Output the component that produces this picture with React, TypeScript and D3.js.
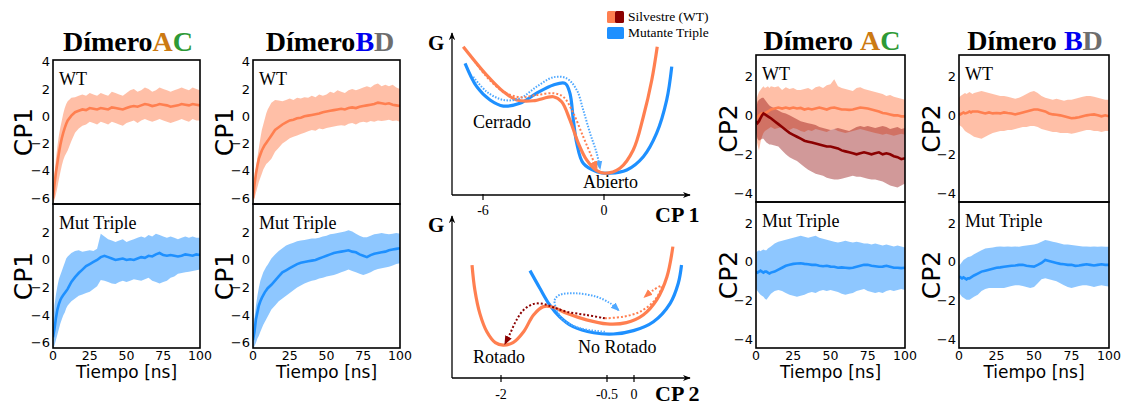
import React from "react";
import * as d3 from "d3";

// ---------- time axis (ns) ----------
const T = [0,1,2,3,4,5,6,7,8,9,10,12.5,15,17.5,20,22.5,25,27.5,30,32.5,35,37.5,40,42.5,45,47.5,50,52.5,55,57.5,60,62.5,65,67.5,70,72.5,75,77.5,80,82.5,85,87.5,90,92.5,95,97.5,100];
const xTicks = [0, 25, 50, 75, 100];

// ---------- CP1, Dímero AC ----------
const acCp1WtMean = [-6.0,-5.0,-4.1,-3.4,-2.7,-2.1,-1.6,-1.2,-0.85,-0.55,-0.3,0.05,0.3,0.4,0.5,0.45,0.6,0.55,0.5,0.6,0.55,0.5,0.65,0.6,0.55,0.5,0.6,0.7,0.75,0.7,0.8,0.9,0.85,0.75,0.8,0.9,0.85,0.8,0.7,0.75,0.8,0.9,0.85,0.8,0.9,0.85,0.8];
const acCp1WtHi = [-5.6,-4.3,-3.1,-2.2,-1.4,-0.8,-0.3,0.2,0.6,0.9,1.1,1.35,1.4,1.5,1.6,1.5,1.7,1.6,1.5,1.7,1.6,1.5,1.8,1.7,1.6,1.5,1.7,1.9,2.0,1.8,1.9,2.1,2.0,1.8,1.9,2.1,2.0,1.9,1.8,1.9,2.0,2.1,2.0,1.9,2.1,2.0,1.9];
const acCp1WtLo = [-6.4,-6.1,-5.7,-5.2,-4.6,-4.1,-3.6,-3.2,-2.9,-2.7,-2.5,-1.8,-1.2,-0.9,-0.7,-0.6,-0.4,-0.5,-0.6,-0.4,-0.5,-0.6,-0.4,-0.5,-0.6,-0.7,-0.5,-0.4,-0.3,-0.5,-0.3,-0.2,-0.3,-0.4,-0.3,-0.2,-0.3,-0.4,-0.5,-0.4,-0.3,-0.2,-0.3,-0.4,-0.2,-0.3,-0.3];
const acCp1MutMean = [-5.6,-5.0,-4.2,-3.6,-3.2,-2.9,-2.7,-2.55,-2.4,-2.25,-2.1,-1.6,-1.25,-0.95,-0.7,-0.45,-0.3,-0.15,0.0,0.2,0.3,0.2,0.1,0.0,0.05,0.1,0.0,0.05,0.0,0.1,0.2,0.15,0.3,0.25,0.4,0.5,0.35,0.3,0.35,0.3,0.25,0.3,0.4,0.35,0.3,0.4,0.35];
const acCp1MutHi = [-4.8,-3.3,-2.5,-1.9,-1.4,-1.1,-0.8,-0.5,-0.2,0.1,0.25,0.5,0.65,0.7,0.6,0.65,0.7,0.65,0.8,1.9,1.7,1.5,1.4,1.3,1.4,1.5,1.3,1.4,1.5,1.6,1.7,1.6,1.8,1.7,1.9,1.8,1.7,1.6,1.7,1.6,1.5,1.6,1.7,1.6,1.7,1.6,1.6];
const acCp1MutLo = [-6.4,-6.2,-5.8,-5.4,-5.0,-4.6,-4.3,-4.0,-3.8,-3.5,-3.3,-3.0,-2.8,-2.6,-2.5,-2.4,-2.3,-2.1,-1.9,-1.45,-1.5,-1.6,-1.7,-1.75,-1.6,-1.5,-1.6,-1.5,-1.4,-1.45,-1.5,-1.4,-1.3,-1.5,-1.6,-1.7,-1.6,-1.5,-1.3,-1.2,-1.0,-0.95,-0.9,-0.85,-0.8,-0.75,-0.7];

// ---------- CP1, Dímero BD ----------
const bdCp1WtMean = [-6.0,-5.0,-4.2,-3.6,-3.1,-2.8,-2.5,-2.3,-2.1,-1.95,-1.8,-1.4,-1.0,-0.8,-0.6,-0.45,-0.3,-0.25,-0.15,-0.1,0.0,0.05,0.1,0.15,0.2,0.3,0.35,0.4,0.45,0.5,0.55,0.5,0.6,0.65,0.6,0.7,0.75,0.8,0.85,0.9,1.0,0.95,0.9,0.95,0.85,0.8,0.75];
const bdCp1WtHi = [-5.6,-4.6,-3.8,-3.0,-2.3,-1.6,-1.0,-0.6,-0.2,0.2,0.5,1.0,1.2,1.15,1.1,1.2,1.3,1.2,1.35,1.3,1.4,1.35,1.5,1.4,1.6,1.5,1.6,1.8,1.7,1.9,1.8,1.7,1.9,2.0,1.9,2.0,2.1,2.2,2.1,2.3,2.4,2.2,2.3,2.2,2.3,2.1,2.0];
const bdCp1WtLo = [-6.4,-6.0,-5.6,-5.2,-4.8,-4.5,-4.2,-3.9,-3.7,-3.5,-3.4,-3.1,-2.6,-2.3,-2.0,-1.8,-1.6,-1.5,-1.4,-1.3,-1.2,-1.1,-1.0,-1.05,-0.9,-0.95,-0.85,-0.8,-0.75,-0.7,-0.65,-0.7,-0.55,-0.5,-0.6,-0.45,-0.4,-0.45,-0.35,-0.4,-0.3,-0.35,-0.3,-0.25,-0.35,-0.3,-0.4];
const bdCp1MutMean = [-5.8,-5.2,-4.3,-3.8,-3.3,-3.0,-2.75,-2.55,-2.35,-2.2,-2.05,-1.8,-1.5,-1.2,-0.9,-0.75,-0.6,-0.45,-0.3,-0.2,-0.15,-0.1,-0.05,0.0,0.1,0.2,0.3,0.4,0.5,0.55,0.6,0.65,0.7,0.6,0.55,0.4,0.3,0.2,0.35,0.45,0.5,0.55,0.6,0.7,0.75,0.8,0.85];
const bdCp1MutHi = [-5.2,-4.2,-3.3,-2.6,-2.0,-1.5,-1.2,-0.9,-0.7,-0.5,-0.35,0.1,0.4,0.65,0.85,1.05,1.15,1.25,1.35,1.4,1.45,1.5,1.55,1.55,1.6,1.7,1.75,1.85,1.9,1.95,2.0,2.05,2.15,2.05,1.9,1.75,1.65,1.65,1.75,1.85,1.9,1.95,1.9,1.85,1.9,1.95,1.9];
const bdCp1MutLo = [-6.4,-6.25,-6.0,-5.7,-5.5,-5.2,-4.95,-4.7,-4.5,-4.3,-4.1,-3.6,-3.3,-3.0,-2.8,-2.6,-2.4,-2.2,-2.0,-1.85,-1.7,-1.6,-1.5,-1.45,-1.35,-1.3,-1.2,-1.15,-1.1,-1.0,-0.9,-0.8,-0.7,-0.8,-0.9,-1.0,-1.1,-1.0,-0.9,-0.75,-0.65,-0.6,-0.55,-0.5,-0.4,-0.3,-0.25];

// ---------- CP2, Dímero AC ----------
const acCp2WtMean = [-0.2,-0.1,0.0,0.05,0.1,0.1,0.12,0.15,0.2,0.25,0.3,0.35,0.4,0.35,0.4,0.35,0.4,0.35,0.38,0.3,0.35,0.3,0.35,0.4,0.35,0.3,0.38,0.4,0.35,0.3,0.3,0.28,0.3,0.35,0.4,0.38,0.35,0.3,0.25,0.2,0.12,0.1,0.05,0.0,0.0,-0.05,-0.05];
const acCp2WtHi = [0.7,1.0,1.2,1.3,1.4,1.5,1.4,1.45,1.5,1.4,1.5,1.45,1.5,1.3,1.45,1.35,1.4,1.3,1.3,1.35,1.4,1.3,1.45,1.5,1.4,1.55,1.6,1.85,1.5,1.4,1.35,1.3,1.25,1.4,1.45,1.35,1.3,1.25,1.2,1.15,1.1,1.0,1.05,0.95,0.9,0.85,0.8];
const acCp2WtLo = [-1.2,-1.5,-1.8,-1.4,-1.1,-0.9,-0.8,-0.75,-0.7,-0.65,-0.6,-0.7,-0.65,-0.6,-0.7,-0.75,-0.65,-0.7,-0.8,-0.85,-0.75,-0.8,-0.7,-0.75,-0.8,-0.85,-0.75,-0.7,-0.8,-0.85,-0.9,-0.85,-0.8,-0.75,-0.7,-0.75,-0.8,-0.85,-0.9,-0.95,-1.0,-0.95,-1.0,-1.05,-1.0,-0.95,-1.0];
const acCp2WtChainMean = [-0.3,-0.4,-0.3,-0.15,0.0,0.1,0.05,0.0,-0.05,-0.1,-0.15,-0.3,-0.45,-0.6,-0.75,-0.9,-1.0,-1.1,-1.2,-1.3,-1.35,-1.4,-1.45,-1.5,-1.55,-1.6,-1.6,-1.65,-1.7,-1.8,-1.85,-1.9,-1.95,-2.0,-1.95,-1.9,-1.95,-2.0,-1.95,-1.9,-2.0,-1.95,-2.0,-2.1,-2.15,-2.25,-2.2];
const acCp2WtChainHi = [0.3,0.7,0.8,0.85,0.9,0.9,0.8,0.7,0.6,0.5,0.45,0.35,0.25,0.15,0.1,0.0,-0.1,-0.2,-0.3,-0.35,-0.4,-0.45,-0.5,-0.6,-0.65,-0.7,-0.75,-0.7,-0.65,-0.7,-0.75,-0.8,-0.7,-0.6,-0.55,-0.6,-0.55,-0.6,-0.65,-0.6,-0.55,-0.6,-0.7,-0.65,-0.6,-0.7,-0.65];
const acCp2WtChainLo = [-0.9,-1.2,-1.3,-1.25,-1.2,-1.2,-1.3,-1.4,-1.45,-1.5,-1.5,-1.55,-1.6,-1.8,-2.0,-2.15,-2.25,-2.35,-2.5,-2.65,-2.8,-2.9,-3.0,-3.05,-3.1,-3.2,-3.25,-3.3,-3.3,-3.25,-3.2,-3.15,-3.1,-3.15,-3.15,-3.2,-3.25,-3.3,-3.3,-3.35,-3.4,-3.5,-3.6,-3.65,-3.7,-3.6,-3.5];
const acCp2MutMean = [-0.5,-0.55,-0.5,-0.45,-0.5,-0.55,-0.5,-0.5,-0.55,-0.6,-0.55,-0.5,-0.4,-0.3,-0.2,-0.15,-0.1,-0.08,-0.07,-0.1,-0.12,-0.15,-0.15,-0.2,-0.22,-0.2,-0.24,-0.25,-0.3,-0.28,-0.3,-0.32,-0.3,-0.25,-0.2,-0.15,-0.15,-0.2,-0.22,-0.25,-0.24,-0.2,-0.25,-0.3,-0.3,-0.32,-0.3];
const acCp2MutHi = [0.5,0.55,0.6,0.55,0.6,0.65,0.6,0.6,0.7,0.75,0.8,0.95,1.05,1.1,1.15,1.2,1.25,1.3,1.35,1.3,1.25,1.3,1.35,1.25,1.2,1.15,1.1,1.05,1.0,1.05,1.1,1.05,1.0,1.05,1.0,0.95,0.95,0.9,0.95,0.9,0.85,0.9,0.85,0.8,0.85,0.8,0.75];
const acCp2MutLo = [-1.4,-1.5,-1.6,-1.7,-1.75,-1.8,-1.9,-1.95,-1.85,-1.75,-1.65,-1.5,-1.45,-1.5,-1.6,-1.7,-1.75,-1.8,-1.75,-1.7,-1.6,-1.55,-1.6,-1.5,-1.45,-1.5,-1.45,-1.5,-1.55,-1.65,-1.7,-1.65,-1.6,-1.5,-1.45,-1.4,-1.5,-1.55,-1.6,-1.55,-1.6,-1.5,-1.45,-1.5,-1.45,-1.4,-1.45];

// ---------- CP2, Dímero BD ----------
const bdCp2WtMean = [0.1,0.05,0.1,0.15,0.1,0.12,0.15,0.2,0.15,0.2,0.2,0.2,0.15,0.1,0.15,0.1,0.12,0.1,0.15,0.12,0.1,0.05,0.1,0.15,0.2,0.25,0.3,0.3,0.25,0.2,0.1,0.05,0.03,0.0,-0.05,-0.1,-0.15,-0.13,-0.1,-0.05,0.0,0.03,0.05,0.0,-0.05,0.0,-0.05];
const bdCp2WtHi = [0.9,1.0,1.05,1.1,1.15,1.1,1.15,1.2,1.15,1.1,1.15,1.2,1.25,1.2,1.15,1.1,1.05,1.0,1.0,0.95,0.9,0.85,0.9,1.0,1.1,1.2,1.25,1.15,1.0,0.9,0.85,0.8,0.85,0.8,0.75,0.8,0.8,0.85,0.9,0.95,1.0,1.0,0.95,0.9,0.85,0.8,0.8];
const bdCp2WtLo = [-0.5,-0.55,-0.6,-0.7,-0.8,-0.85,-0.9,-0.95,-1.0,-1.05,-1.1,-1.15,-1.2,-1.1,-1.0,-0.9,-0.85,-0.8,-0.8,-0.75,-0.75,-0.7,-0.65,-0.6,-0.6,-0.55,-0.55,-0.6,-0.7,-0.75,-0.8,-0.85,-0.85,-0.9,-0.9,-0.9,-0.95,-0.9,-0.85,-0.8,-0.75,-0.75,-0.8,-0.8,-0.85,-0.8,-0.8];
const bdCp2MutMean = [-0.75,-0.8,-0.85,-0.8,-0.85,-0.9,-0.85,-0.85,-0.8,-0.75,-0.7,-0.6,-0.5,-0.45,-0.4,-0.35,-0.3,-0.28,-0.25,-0.22,-0.2,-0.18,-0.15,-0.15,-0.2,-0.22,-0.24,-0.15,-0.05,0.1,0.05,0.0,-0.05,-0.1,-0.12,-0.15,-0.15,-0.2,-0.18,-0.15,-0.12,-0.15,-0.18,-0.15,-0.12,-0.15,-0.15];
const bdCp2MutHi = [-0.2,-0.1,0.0,0.1,0.15,0.2,0.25,0.27,0.3,0.35,0.4,0.5,0.6,0.7,0.72,0.75,0.78,0.8,0.78,0.8,0.78,0.8,0.78,0.82,0.85,0.87,0.9,0.95,1.05,1.13,1.1,1.05,1.0,0.95,0.9,0.9,0.88,0.85,0.82,0.8,0.8,0.78,0.8,0.78,0.8,0.78,0.78];
const bdCp2MutLo = [-1.6,-1.7,-1.8,-1.85,-1.9,-1.95,-1.95,-1.95,-1.9,-1.85,-1.8,-1.7,-1.5,-1.4,-1.35,-1.35,-1.35,-1.35,-1.35,-1.3,-1.25,-1.2,-1.2,-1.25,-1.3,-1.35,-1.3,-1.1,-0.9,-0.84,-0.9,-0.95,-1.0,-1.1,-1.2,-1.3,-1.35,-1.3,-1.25,-1.2,-1.2,-1.25,-1.3,-1.25,-1.2,-1.25,-1.27];

// ---------- free-energy sketch (CP, G) ----------
const cp1TickVals = [-6, 0];
const cp2TickVals = [-2, -0.5, 0];
const gCp1Wt: [number, number][] = [[-6.98,9.27],[-5.82,7.5],[-4.99,6.46],[-4.33,5.94],[-3.51,5.89],[-2.51,6.14],[-2.10,5.83],[-1.69,4.69],[-1.27,3.23],[-0.86,2.19],[-0.36,1.52],[0.05,1.36],[0.79,1.67],[1.45,2.81],[1.95,4.89],[2.37,7.19],[2.64,9.27]];
const gCp1Mut: [number, number][] = [[-6.89,8.23],[-6.31,6.77],[-5.65,5.94],[-4.99,5.56],[-4.17,5.73],[-3.34,6.36],[-2.51,6.88],[-1.93,6.98],[-1.69,6.36],[-1.52,4.69],[-1.35,3.23],[-1.03,1.98],[-0.36,1.46],[0.30,1.36],[1.13,1.56],[1.95,2.39],[2.61,3.86],[3.11,5.94],[3.36,8.02]];
const pathCp1Wt: [number, number][] = [[-6.64,8.75],[-5.82,7.39],[-4.99,6.46],[-4.17,6.11],[-3.34,6.25],[-2.51,6.36],[-2.02,6.14],[-1.52,5.11],[-1.03,3.64],[-0.61,2.39],[-0.36,1.67]];
const pathCp1Mut: [number, number][] = [[-6.48,7.39],[-5.82,6.46],[-4.99,5.94],[-4.17,6.04],[-3.34,6.77],[-2.51,7.36],[-1.85,7.29],[-1.35,6.56],[-1.03,5.31],[-0.69,3.86],[-0.36,2.61],[-0.20,1.67]];
const gCp2Wt: [number, number][] = [[-2.41,7.06],[-2.37,5.5],[-2.30,4.04],[-2.20,2.89],[-2.08,2.21],[-1.97,2.06],[-1.83,2.21],[-1.68,2.89],[-1.54,3.94],[-1.40,4.46],[-1.26,4.42],[-1.07,4.04],[-0.79,3.63],[-0.50,3.38],[-0.14,3.46],[0.17,3.94],[0.42,4.88],[0.61,6.33],[0.72,8.21]];
const gCp2Mut: [number, number][] = [[-1.59,6.71],[-1.45,5.61],[-1.31,4.56],[-1.17,3.83],[-0.98,3.21],[-0.69,2.83],[-0.38,2.75],[-0.01,2.96],[0.36,3.52],[0.67,4.67],[0.82,5.92],[0.88,7.06]];
const pathCp2WtChain: [number, number][] = [[-0.53,3.73],[-0.79,3.94],[-1.07,4.14],[-1.26,4.42],[-1.40,4.63],[-1.54,4.63],[-1.68,4.25],[-1.78,3.63],[-1.87,2.79],[-1.94,2.17]];
const pathCp2Wt: [number, number][] = [[-0.53,3.73],[-0.20,3.83],[0.11,4.14],[0.36,4.77],[0.48,5.39],[0.51,5.75],[0.36,5.5],[0.20,5.08]];
const pathCp2Mut: [number, number][] = [[-0.53,2.89],[-0.88,3.11],[-1.12,3.63],[-1.21,4.25],[-1.24,4.88],[-1.17,5.19],[-0.93,5.29],[-0.65,5.08],[-0.44,4.67],[-0.29,4.25]];

const ORANGE = "#FF7F50";
const BLUE = "#1E90FF";
const DARKRED = "#8B0000";
const SERIF = "'Liberation Serif', 'Times New Roman', serif";
const SANS = "'DejaVu Sans', sans-serif";

type Series = { mean: number[]; lo: number[]; hi: number[]; color: string; band: number };

const minus = (v: number) => (v < 0 ? "\u2212" + Math.abs(v) : String(v));

function SubPanel(props: {
  id: string; x0: number; x1: number; y0: number; y1: number;
  domain: [number, number]; ticks: number[]; label: string; series: Series[];
  showX: boolean; ylabel: string; ylabelX: number;
}) {
  const { id, x0, x1, y0, y1, domain, ticks, label, series, showX, ylabel, ylabelX } = props;
  const x = d3.scaleLinear().domain([0, 100]).range([x0, x1]);
  const y = d3.scaleLinear().domain(domain).range([y1, y0]);
  return (
    <g>
      <clipPath id={id}><rect x={x0} y={y0} width={x1 - x0} height={y1 - y0} /></clipPath>
      <g clipPath={`url(#${id})`}>
        {series.map((s, k) => {
          const area = d3.area<number>().x((_, i) => x(T[i])).y0((_, i) => y(s.lo[i])).y1((_, i) => y(s.hi[i]));
          return <path key={"a" + k} d={area(T) || ""} fill={s.color} fillOpacity={s.band} stroke="none" />;
        })}
        {series.map((s, k) => {
          const line = d3.line<number>().x((_, i) => x(T[i])).y((_, i) => y(s.mean[i]));
          return <path key={"m" + k} d={line(T) || ""} fill="none" stroke={s.color} strokeWidth={2.6} />;
        })}
      </g>
      <rect x={x0} y={y0} width={x1 - x0} height={y1 - y0} fill="none" stroke="#000" strokeWidth={1.6} />
      {ticks.map((t) => (
        <text key={t} x={x0 - 3} y={y(t)} dy="0.35em" textAnchor="end" fontFamily={SANS} fontSize={13}>{minus(t)}</text>
      ))}
      {showX && xTicks.map((t) => (
        <text key={"x" + t} x={x(t)} y={y1 + 11.5} textAnchor="middle" fontFamily={SANS} fontSize={12.5}>{t}</text>
      ))}
      {showX && (
        <text x={(x0 + x1) / 2} y={y1 + 30} textAnchor="middle" fontFamily={SANS} fontSize={17}>Tiempo [ns]</text>
      )}
      <text x={x0 + 6} y={y0 + 25} fontFamily={SERIF} fontSize={18}>{label}</text>
      <text transform={`translate(${ylabelX},${(y0 + y1) / 2}) rotate(-90)`} textAnchor="middle" fontFamily={SANS} fontSize={25}>{ylabel}</text>
    </g>
  );
}

function Title({ cx, y, letters, space }: { cx: number; y: number; letters: [string, string][]; space: boolean }) {
  return (
    <text x={cx} y={y} textAnchor="middle" fontFamily={SERIF} fontWeight="bold" fontSize={28}>
      <tspan fill="#000">Dímero</tspan>
      {letters.map(([c, col], i) => (
        <tspan key={i} fill={col} dx={space && i === 0 ? 7 : 0}>{c}</tspan>
      ))}
    </text>
  );
}

function Diagram() {
  const x1 = d3.scaleLinear().domain([-6, 0]).range([483, 604]);
  const g1 = d3.scaleLinear().domain([0, 10]).range([195, 35]);
  const x2 = d3.scaleLinear().domain([-2, -0.5, 0]).range([501, 607, 634]);
  const g2 = d3.scaleLinear().domain([0, 10]).range([378, 218]);
  const mk = (xs: d3.ScaleLinear<number, number>, gs: d3.ScaleLinear<number, number>) =>
    d3.line<[number, number]>().x((d) => xs(d[0])).y((d) => gs(d[1])).curve(d3.curveCatmullRom.alpha(0.5));
  const l1 = mk(x1, g1);
  const l2 = mk(x2, g2);
  const axisX0 = 452;
  return (
    <g>
      <defs>
        <marker id="axArrow" viewBox="0 0 10 10" refX="9" refY="5" markerWidth="8" markerHeight="8" orient="auto" markerUnits="userSpaceOnUse">
          <path d="M0,1 L10,5 L0,9 L3,5 z" fill="#000" />
        </marker>
        {[["arO", ORANGE], ["arB", "#4FA8FF"], ["arR", DARKRED]].map(([id, c]) => (
          <marker key={id} id={id} viewBox="0 0 10 10" refX="8" refY="5" markerWidth="9" markerHeight="9" orient="auto" markerUnits="userSpaceOnUse">
            <path d="M0,1 L10,5 L0,9 z" fill={c} />
          </marker>
        ))}
      </defs>
      {/* top diagram axes */}
      <line x1={axisX0} y1={g1(0)} x2={axisX0} y2={33} stroke="#000" strokeWidth={1.3} markerEnd="url(#axArrow)" />
      <line x1={axisX0} y1={g1(0)} x2={690} y2={g1(0)} stroke="#000" strokeWidth={1.3} markerEnd="url(#axArrow)" />
      {cp1TickVals.map((t) => (
        <g key={t}>
          <line x1={x1(t)} x2={x1(t)} y1={g1(0) - 1} y2={g1(0) + 5} stroke="#000" strokeWidth={1.2} />
          <text x={x1(t)} y={215} textAnchor="middle" fontFamily={SERIF} fontSize={14}>{t === 0 ? "0" : "-" + Math.abs(t)}</text>
        </g>
      ))}
      <text x={428} y={50} fontFamily={SERIF} fontWeight="bold" fontSize={21}>G</text>
      <text x={655} y={222} fontFamily={SERIF} fontWeight="bold" fontSize={22}>CP 1</text>
      <path d={l1(gCp1Mut) || ""} fill="none" stroke={BLUE} strokeWidth={3.2} />
      <path d={l1(gCp1Wt) || ""} fill="none" stroke={ORANGE} strokeWidth={3.2} />
      <path d={l1(pathCp1Mut) || ""} fill="none" stroke="#4FA8FF" strokeWidth={2} strokeDasharray="1.5,1.5" markerEnd="url(#arB)" />
      <path d={l1(pathCp1Wt) || ""} fill="none" stroke={ORANGE} strokeWidth={2} strokeDasharray="2,2" markerEnd="url(#arO)" />
      <text x={473} y={128} fontFamily={SERIF} fontSize={18}>Cerrado</text>
      <text x={583} y={188} fontFamily={SERIF} fontSize={18}>Abierto</text>

      {/* bottom diagram axes */}
      <line x1={axisX0} y1={g2(0)} x2={axisX0} y2={216} stroke="#000" strokeWidth={1.3} markerEnd="url(#axArrow)" />
      <line x1={axisX0} y1={g2(0)} x2={690} y2={g2(0)} stroke="#000" strokeWidth={1.3} markerEnd="url(#axArrow)" />
      {cp2TickVals.map((t) => (
        <g key={t}>
          <line x1={x2(t)} x2={x2(t)} y1={g2(0) - 3} y2={g2(0) + 4} stroke="#000" strokeWidth={1.2} />
          <text x={x2(t)} y={399} textAnchor="middle" fontFamily={SERIF} fontSize={14}>{t === 0 ? "0" : "-" + Math.abs(t)}</text>
        </g>
      ))}
      <text x={428} y={232} fontFamily={SERIF} fontWeight="bold" fontSize={21}>G</text>
      <text x={655} y={401} fontFamily={SERIF} fontWeight="bold" fontSize={22}>CP 2</text>
      <path d={l2(gCp2Mut) || ""} fill="none" stroke={BLUE} strokeWidth={3.2} />
      <path d={l2(gCp2Wt) || ""} fill="none" stroke={ORANGE} strokeWidth={3.2} />
      <path d={l2(pathCp2Mut) || ""} fill="none" stroke="#4FA8FF" strokeWidth={2} strokeDasharray="1.5,1.5" markerEnd="url(#arB)" />
      <path d={l2(pathCp2WtChain) || ""} fill="none" stroke={DARKRED} strokeWidth={2} strokeDasharray="2,2" markerEnd="url(#arR)" />
      <path d={l2(pathCp2Wt) || ""} fill="none" stroke={ORANGE} strokeWidth={2} strokeDasharray="2,2" markerEnd="url(#arO)" />
      <text x={473} y={363} fontFamily={SERIF} fontSize={18}>Rotado</text>
      <text x={578} y={353} fontFamily={SERIF} fontSize={18}>No Rotado</text>

      {/* legend */}
      <rect x={607} y={11} width={9} height={12} rx={1.5} fill={ORANGE} />
      <rect x={615} y={11} width={9} height={12} rx={1.5} fill={DARKRED} />
      <text x={628} y={21} fontFamily={SERIF} fontSize={13.5}>Silvestre (WT)</text>
      <rect x={607} y={27} width={17} height={12} rx={1.5} fill={BLUE} />
      <text x={628} y={37} fontFamily={SERIF} fontSize={13.5}>Mutante Triple</text>
    </g>
  );
}

export default function App() {
  const o = (mean: number[], lo: number[], hi: number[]): Series => ({ mean, lo, hi, color: ORANGE, band: 0.5 });
  const b = (mean: number[], lo: number[], hi: number[]): Series => ({ mean, lo, hi, color: BLUE, band: 0.5 });
  const r = (mean: number[], lo: number[], hi: number[]): Series => ({ mean, lo, hi, color: DARKRED, band: 0.4 });
  const cp1Top: [number, number] = [-6.42, 4.12];
  const cp1Bot: [number, number] = [-6.38, 4.05];
  const cp2Dom: [number, number] = [-4.45, 3.1];
  return (
    <svg width={1125} height={405} style={{ position: "absolute", left: 0, top: 0, background: "#fff" }}>
      <rect x={0} y={0} width={1125} height={405} fill="#fff" />
      <Title cx={128} y={51} letters={[["A", "#CC7A12"], ["C", "#2E9A36"]]} space={false} />
      <Title cx={330} y={51} letters={[["B", "#0000F0"], ["D", "#6E6E6E"]]} space={false} />
      <Title cx={832} y={50} letters={[["A", "#CC7A12"], ["C", "#2E9A36"]]} space={true} />
      <Title cx={1035} y={50} letters={[["B", "#0000F0"], ["D", "#6E6E6E"]]} space={true} />

      <SubPanel id="c1" x0={53} x1={200} y0={60} y1={204} domain={cp1Top} ticks={[-6, -4, -2, 0, 2, 4]} label="WT"
        series={[o(acCp1WtMean, acCp1WtLo, acCp1WtHi)]} showX={false} ylabel="CP1" ylabelX={31.5} />
      <SubPanel id="c2" x0={53} x1={200} y0={204} y1={348} domain={cp1Bot} ticks={[-6, -4, -2, 0, 2]} label="Mut Triple"
        series={[b(acCp1MutMean, acCp1MutLo, acCp1MutHi)]} showX={true} ylabel="CP1" ylabelX={31.5} />
      <SubPanel id="c3" x0={253} x1={400} y0={60} y1={204} domain={cp1Top} ticks={[-6, -4, -2, 0, 2, 4]} label="WT"
        series={[o(bdCp1WtMean, bdCp1WtLo, bdCp1WtHi)]} showX={false} ylabel="CP1" ylabelX={233} />
      <SubPanel id="c4" x0={253} x1={400} y0={204} y1={348} domain={cp1Bot} ticks={[-6, -4, -2, 0, 2]} label="Mut Triple"
        series={[b(bdCp1MutMean, bdCp1MutLo, bdCp1MutHi)]} showX={true} ylabel="CP1" ylabelX={233} />

      <SubPanel id="c5" x0={756} x1={905} y0={55} y1={202} domain={cp2Dom} ticks={[-4, -2, 0, 2]} label="WT"
        series={[o(acCp2WtMean, acCp2WtLo, acCp2WtHi), r(acCp2WtChainMean, acCp2WtChainLo, acCp2WtChainHi)]} showX={false} ylabel="CP2" ylabelX={737} />
      <SubPanel id="c6" x0={756} x1={905} y0={202} y1={348} domain={cp2Dom} ticks={[-4, -2, 0, 2]} label="Mut Triple"
        series={[b(acCp2MutMean, acCp2MutLo, acCp2MutHi)]} showX={true} ylabel="CP2" ylabelX={737} />
      <SubPanel id="c7" x0={959} x1={1109} y0={55} y1={202} domain={cp2Dom} ticks={[-4, -2, 0, 2]} label="WT"
        series={[o(bdCp2WtMean, bdCp2WtLo, bdCp2WtHi)]} showX={false} ylabel="CP2" ylabelX={940} />
      <SubPanel id="c8" x0={959} x1={1109} y0={202} y1={348} domain={cp2Dom} ticks={[-4, -2, 0, 2]} label="Mut Triple"
        series={[b(bdCp2MutMean, bdCp2MutLo, bdCp2MutHi)]} showX={true} ylabel="CP2" ylabelX={940} />

      <Diagram />
    </svg>
  );
}
